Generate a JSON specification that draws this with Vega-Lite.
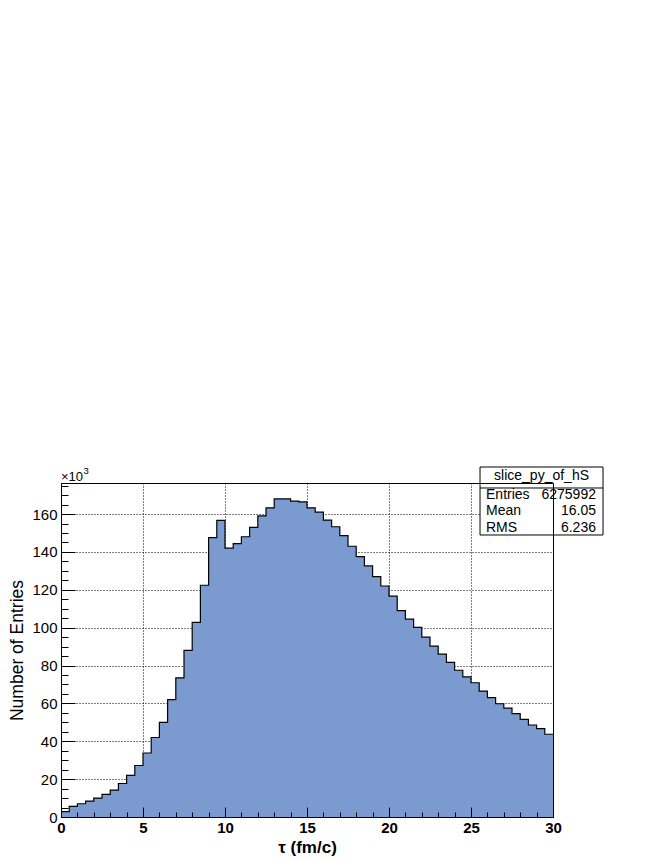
{
  "$schema": "https://vega.github.io/schema/vega-lite/v6.json",
  "width": 492,
  "height": 334,
  "autosize": "none",
  "padding": {"left": 61, "top": 483, "right": 111, "bottom": 43},
  "background": "white",
  "config": {
    "view": {"stroke": null},
    "font": "Liberation Sans",
    "axis": {
      "labelFont": "Liberation Sans",
      "titleFont": "Liberation Sans",
      "labelColor": "black",
      "titleColor": "black",
      "domainColor": "black",
      "tickColor": "black",
      "domainWidth": 1,
      "tickWidth": 1,
      "labelFlush": false,
      "labelOverlap": false,
      "labelBound": false
    }
  },
  "datasets": {
    "h": [
      {"x0": 0, "x1": 0.5, "n": 2.8},
      {"x0": 0.5, "x1": 1, "n": 5.6},
      {"x0": 1, "x1": 1.5, "n": 7.0},
      {"x0": 1.5, "x1": 2, "n": 8.4},
      {"x0": 2, "x1": 2.5, "n": 10.0},
      {"x0": 2.5, "x1": 3, "n": 12.0},
      {"x0": 3, "x1": 3.5, "n": 14.2},
      {"x0": 3.5, "x1": 4, "n": 17.7},
      {"x0": 4, "x1": 4.5, "n": 22.0},
      {"x0": 4.5, "x1": 5, "n": 27.2},
      {"x0": 5, "x1": 5.5, "n": 33.8},
      {"x0": 5.5, "x1": 6, "n": 42.0},
      {"x0": 6, "x1": 6.5, "n": 50.0},
      {"x0": 6.5, "x1": 7, "n": 62.0},
      {"x0": 7, "x1": 7.5, "n": 73.5},
      {"x0": 7.5, "x1": 8, "n": 88.0},
      {"x0": 8, "x1": 8.5, "n": 102.8},
      {"x0": 8.5, "x1": 9, "n": 122.4},
      {"x0": 9, "x1": 9.5, "n": 147.5},
      {"x0": 9.5, "x1": 10, "n": 156.7},
      {"x0": 10, "x1": 10.5, "n": 142.0},
      {"x0": 10.5, "x1": 11, "n": 144.4},
      {"x0": 11, "x1": 11.5, "n": 148.0},
      {"x0": 11.5, "x1": 12, "n": 153.0},
      {"x0": 12, "x1": 12.5, "n": 159.0},
      {"x0": 12.5, "x1": 13, "n": 163.3},
      {"x0": 13, "x1": 13.5, "n": 168.0},
      {"x0": 13.5, "x1": 14, "n": 168.0},
      {"x0": 14, "x1": 14.5, "n": 166.8},
      {"x0": 14.5, "x1": 15, "n": 166.4},
      {"x0": 15, "x1": 15.5, "n": 163.3},
      {"x0": 15.5, "x1": 16, "n": 161.0},
      {"x0": 16, "x1": 16.5, "n": 156.8},
      {"x0": 16.5, "x1": 17, "n": 153.3},
      {"x0": 17, "x1": 17.5, "n": 148.6},
      {"x0": 17.5, "x1": 18, "n": 143.0},
      {"x0": 18, "x1": 18.5, "n": 137.5},
      {"x0": 18.5, "x1": 19, "n": 132.6},
      {"x0": 19, "x1": 19.5, "n": 127.0},
      {"x0": 19.5, "x1": 20, "n": 122.0},
      {"x0": 20, "x1": 20.5, "n": 116.7},
      {"x0": 20.5, "x1": 21, "n": 109.0},
      {"x0": 21, "x1": 21.5, "n": 104.5},
      {"x0": 21.5, "x1": 22, "n": 100.2},
      {"x0": 22, "x1": 22.5, "n": 95.0},
      {"x0": 22.5, "x1": 23, "n": 90.2},
      {"x0": 23, "x1": 23.5, "n": 86.0},
      {"x0": 23.5, "x1": 24, "n": 81.7},
      {"x0": 24, "x1": 24.5, "n": 77.5},
      {"x0": 24.5, "x1": 25, "n": 74.0},
      {"x0": 25, "x1": 25.5, "n": 70.9},
      {"x0": 25.5, "x1": 26, "n": 66.5},
      {"x0": 26, "x1": 26.5, "n": 63.0},
      {"x0": 26.5, "x1": 27, "n": 59.8},
      {"x0": 27, "x1": 27.5, "n": 57.5},
      {"x0": 27.5, "x1": 28, "n": 54.6},
      {"x0": 28, "x1": 28.5, "n": 51.6},
      {"x0": 28.5, "x1": 29, "n": 48.6},
      {"x0": 29, "x1": 29.5, "n": 46.7},
      {"x0": 29.5, "x1": 30, "n": 43.7}
    ],
    "one": [{}]
  },
  "layer": [
    {
      "data": {"name": "h"},
      "transform": [{"fold": ["x0", "x1"], "as": ["edge", "t"]}],
      "mark": {"type": "area", "color": "#7b9ad0", "interpolate": "linear"},
      "encoding": {
        "x": {
          "field": "t", "type": "quantitative",
          "scale": {"domain": [0, 30], "nice": false, "zero": false},
          "axis": {
            "orient": "bottom", "values": [0, 5, 10, 15, 20, 25, 30],
            "ticks": false, "domain": false, "grid": true,
            "gridColor": "black", "gridDash": [1, 2], "gridWidth": 1,
            "labelFontSize": 15, "labelFontWeight": "bold", "labelPadding": 3,
            "title": "τ (fm/c)", "titleFontSize": 17, "titleFontWeight": "bold", "titlePadding": 4
          }
        },
        "y": {
          "field": "n", "type": "quantitative", "stack": null,
          "scale": {"domain": [0, 176.4], "nice": false},
          "axis": {
            "orient": "left", "values": [0, 20, 40, 60, 80, 100, 120, 140, 160],
            "ticks": false, "domain": false, "grid": true,
            "gridColor": "black", "gridDash": [1, 2], "gridWidth": 1,
            "labelFontSize": 15, "labelPadding": 4,
            "title": "Number of Entries", "titleFontSize": 17.5, "titleFontWeight": "normal", "titlePadding": 5
          }
        },
        "order": [{"field": "x0", "type": "quantitative"}, {"field": "edge", "type": "nominal"}]
      }
    },
    {
      "data": {"name": "h"},
      "transform": [{"fold": ["x0", "x1"], "as": ["edge", "t"]}],
      "mark": {"type": "line", "color": "black", "strokeWidth": 1.2, "interpolate": "linear"},
      "encoding": {
        "x": {
          "field": "t", "type": "quantitative",
          "scale": {"domain": [0, 30], "nice": false, "zero": false},
          "axis": {
            "orient": "bottom", "values": [0, 5, 10, 15, 20, 25, 30],
            "ticks": true, "tickSize": -10, "domain": true, "grid": false,
            "labels": false, "title": null, "zindex": 2
          }
        },
        "y": {
          "field": "n", "type": "quantitative", "stack": null,
          "scale": {"domain": [0, 176.4], "nice": false},
          "axis": {
            "orient": "left", "values": [0, 20, 40, 60, 80, 100, 120, 140, 160],
            "ticks": true, "tickSize": -14, "domain": true, "grid": false,
            "labels": false, "title": null, "zindex": 2
          }
        },
        "order": [{"field": "x0", "type": "quantitative"}, {"field": "edge", "type": "nominal"}]
      }
    },
    {
      "data": {"name": "one"},
      "mark": {"type": "rect", "fill": "white", "stroke": "black", "strokeWidth": 1},
      "encoding": {
        "x": {
          "datum": 25.55, "type": "quantitative",
          "scale": {"domain": [0, 30], "nice": false, "zero": false},
          "axis": {
            "orient": "bottom",
            "values": [0, 1, 2, 3, 4, 5, 6, 7, 8, 9, 10, 11, 12, 13, 14, 15, 16, 17, 18, 19, 20, 21, 22, 23, 24, 25, 26, 27, 28, 29, 30],
            "ticks": true, "tickSize": -5, "domain": false, "grid": false,
            "labels": false, "title": null, "zindex": 2
          }
        },
        "x2": {"datum": 33.05},
        "y": {
          "datum": 184.85, "type": "quantitative",
          "scale": {"domain": [0, 176.4], "nice": false},
          "axis": {
            "orient": "left",
            "values": [0, 5, 10, 15, 20, 25, 30, 35, 40, 45, 50, 55, 60, 65, 70, 75, 80, 85, 90, 95, 100, 105, 110, 115, 120, 125, 130, 135, 140, 145, 150, 155, 160, 165, 170, 175],
            "ticks": true, "tickSize": -7, "domain": false, "grid": false,
            "labels": false, "title": null, "zindex": 2
          }
        },
        "y2": {"datum": 148.94}
      }
    },
    {
      "data": {"name": "one"},
      "mark": {"type": "rule", "color": "black", "strokeWidth": 1},
      "encoding": {
        "x": {
          "datum": 25.55, "type": "quantitative",
          "scale": {"domain": [0, 30], "nice": false, "zero": false},
          "axis": {
            "orient": "top", "ticks": false, "domain": true, "grid": false,
            "labels": false, "title": null, "zindex": 2
          }
        },
        "x2": {"datum": 33.05},
        "y": {
          "datum": 173.76, "type": "quantitative",
          "scale": {"domain": [0, 176.4], "nice": false},
          "axis": {
            "orient": "right", "ticks": false, "domain": true, "grid": false,
            "labels": false, "title": null, "zindex": 2
          }
        }
      }
    },
    {
      "data": {"name": "one"},
      "mark": {"type": "text", "align": "center", "baseline": "alphabetic", "fontSize": 14, "font": "Liberation Sans", "color": "black"},
      "encoding": {
        "x": {"datum": 29.3, "type": "quantitative", "axis": null},
        "y": {"datum": 177.8, "type": "quantitative", "axis": null},
        "text": {"value": "slice_py_of_hS"}
      }
    },
    {
      "data": {"name": "one"},
      "mark": {"type": "text", "align": "left", "baseline": "alphabetic", "fontSize": 14, "lineHeight": 16.8, "font": "Liberation Sans", "color": "black"},
      "encoding": {
        "x": {"datum": 25.915, "type": "quantitative", "axis": null},
        "y": {"datum": 168.2, "type": "quantitative", "axis": null},
        "text": {"value": ["Entries", "Mean", "RMS"]}
      }
    },
    {
      "data": {"name": "one"},
      "mark": {"type": "text", "align": "right", "baseline": "alphabetic", "fontSize": 14, "lineHeight": 16.8, "font": "Liberation Sans", "color": "black"},
      "encoding": {
        "x": {"datum": 32.62, "type": "quantitative", "axis": null},
        "y": {"datum": 168.2, "type": "quantitative", "axis": null},
        "text": {"value": ["6275992", "16.05", "6.236"]}
      }
    },
    {
      "data": {"name": "one"},
      "mark": {"type": "text", "align": "left", "baseline": "alphabetic", "fontSize": 13, "font": "Liberation Sans", "color": "black"},
      "encoding": {
        "x": {"datum": 0, "type": "quantitative", "axis": null},
        "y": {"datum": 177.6, "type": "quantitative", "axis": null},
        "text": {"value": "×10"}
      }
    },
    {
      "data": {"name": "one"},
      "mark": {"type": "text", "align": "left", "baseline": "alphabetic", "fontSize": 9.5, "font": "Liberation Sans", "color": "black", "dx": 22.5},
      "encoding": {
        "x": {"datum": 0, "type": "quantitative", "axis": null},
        "y": {"datum": 181.2, "type": "quantitative", "axis": null},
        "text": {"value": "3"}
      }
    }
  ],
  "resolve": {"axis": {"x": "independent", "y": "independent"}}
}
